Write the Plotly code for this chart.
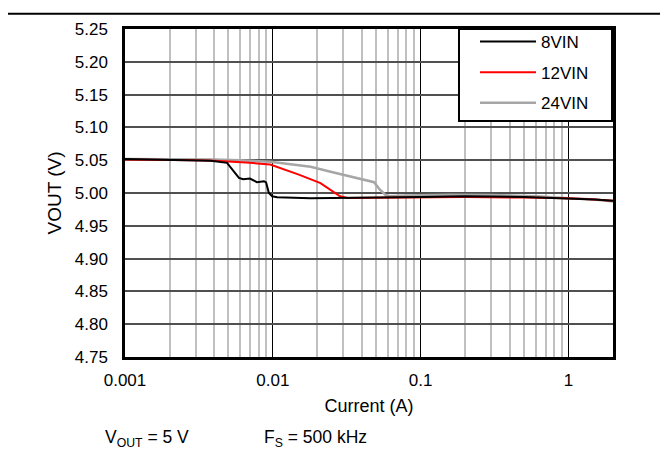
import plotly.graph_objects as go
import numpy as np

# ---- data ----
x_8vin = [0.001, 0.002, 0.003, 0.0038, 0.0049, 0.0054, 0.0059, 0.0063, 0.0070, 0.0078,
          0.0087, 0.0090, 0.0094, 0.0099, 0.0107, 0.018, 0.03, 0.05, 0.1, 0.2, 0.5, 1.0, 1.5, 2.0]
y_8vin = [5.052, 5.051, 5.050, 5.049, 5.046, 5.033, 5.023, 5.021, 5.022, 5.0165,
          5.018, 5.016, 5.000, 4.995, 4.9935, 4.992, 4.993, 4.993, 4.994, 4.995, 4.994, 4.992, 4.990, 4.988]

x_12vin = [0.001, 0.002, 0.003, 0.004, 0.005, 0.0066, 0.0096, 0.015, 0.021, 0.0245, 0.0285, 0.032,
           0.05, 0.1, 0.2, 0.5, 1.0, 1.5, 2.0]
y_12vin = [5.051, 5.051, 5.050, 5.049, 5.048, 5.0465, 5.0435, 5.028, 5.015, 5.005, 4.995, 4.9925,
           4.993, 4.993, 4.994, 4.993, 4.992, 4.990, 4.988]

x_24vin = [0.001, 0.002, 0.004, 0.006, 0.008, 0.0096, 0.012, 0.018, 0.025, 0.0334, 0.0484, 0.053,
           0.0591, 0.08, 0.158, 0.3, 0.6, 1.0, 1.5, 2.0]
y_24vin = [5.052, 5.052, 5.051, 5.050, 5.049, 5.0475, 5.045, 5.040, 5.032, 5.025, 5.0165, 5.005,
           4.995, 4.996, 4.9975, 4.997, 4.995, 4.992, 4.990, 4.987]

x_major_ticks = [0.001, 0.01, 0.1, 1]
x_tick_labels = ["0.001", "0.01", "0.1", "1"]
x_minor = [m * d for d in [0.001, 0.01, 0.1] for m in range(2, 10)] + [2.0]

FONT = "Arial, Liberation Sans, sans-serif"

# page body has an 8px margin; compensate so the plot lands where the reference has it
OFF = 8
W, H = 668 - OFF, 459 - 2 * OFF
PL, PR, PT, PB = 125, 613, 25, 357  # plot area in page pixels


def px(xp):
    return (xp - PL) / (PR - PL)


def py(yp):
    return (PB - yp) / (PB - PT)


fig = go.Figure()
fig.add_trace(go.Scatter(x=x_24vin, y=y_24vin, mode="lines", name="24VIN",
                         legendgroup="c", legendrank=3,
                         line=dict(color="#a6a6a6", width=2.5)))
fig.add_trace(go.Scatter(x=x_12vin, y=y_12vin, mode="lines", name="12VIN",
                         legendgroup="b", legendrank=2,
                         line=dict(color="#ff0000", width=2)))
fig.add_trace(go.Scatter(x=x_8vin, y=y_8vin, mode="lines", name="8VIN",
                         legendgroup="a", legendrank=1,
                         line=dict(color="#000000", width=2)))

fig.update_layout(
    width=W, height=H,
    margin=dict(l=PL - OFF, r=W - (PR - OFF), t=PT - OFF, b=H - (PB - OFF)),
    paper_bgcolor="white", plot_bgcolor="white",
    font=dict(family=FONT, size=17, color="black"),
    showlegend=True,
    legend=dict(x=px(475), y=py(20), xanchor="left", yanchor="top",
                bgcolor="rgba(0,0,0,0)", borderwidth=0,
                traceorder="grouped", tracegroupgap=5.5, itemwidth=56,
                font=dict(family=FONT, size=17, color="black")),
)

fig.update_xaxes(
    type="log", range=[-3, np.log10(2)],
    tickvals=x_major_ticks, ticktext=x_tick_labels,
    showgrid=True, gridcolor="#000000", gridwidth=1,
    minor=dict(tickvals=x_minor, showgrid=True, gridcolor="#c0c0c0", gridwidth=2, ticks=""),
    showline=True, linecolor="black", linewidth=2.5, mirror=True,
    ticks="", ticklabelstandoff=6, tickfont=dict(size=17),
    title=dict(text="Current (A)", font=dict(size=18), standoff=11),
    zeroline=False,
)
fig.update_yaxes(
    range=[4.75, 5.25], dtick=0.05, tickformat=".2f",
    showgrid=True, gridcolor="#505050", gridwidth=1.5,
    showline=True, linecolor="black", linewidth=2.5, mirror=True,
    ticks="", ticklabelstandoff=11, tickfont=dict(size=17),
    title=dict(text="VOUT (V)", font=dict(size=19), standoff=9),
    zeroline=False,
)

# legend box (white, black border) drawn over the grid
fig.add_shape(type="rect", xref="paper", yref="paper", layer="above",
              x0=px(459), x1=px(612), y0=py(118), y1=py(25),
              fillcolor="white", line=dict(color="black", width=2))

# outer frame (top and right)
frame_x = px(661.5)
frame_y = py(9.5)
fig.add_shape(type="path", xref="paper", yref="paper", layer="above",
              path=f"M {px(-10)},{frame_y} L {frame_x},{frame_y} L {frame_x},{py(470)}",
              line=dict(color="black", width=2))

fig.add_annotation(xref="paper", yref="paper", x=px(103), y=py(439),
                   xanchor="left", yanchor="middle", showarrow=False,
                   text="V<sub>OUT</sub> = 5 V", font=dict(family=FONT, size=17.5))
fig.add_annotation(xref="paper", yref="paper", x=px(262), y=py(439),
                   xanchor="left", yanchor="middle", showarrow=False,
                   text="F<sub>S</sub> = 500 kHz", font=dict(family=FONT, size=17.5))

fig.write_html("out.html")
